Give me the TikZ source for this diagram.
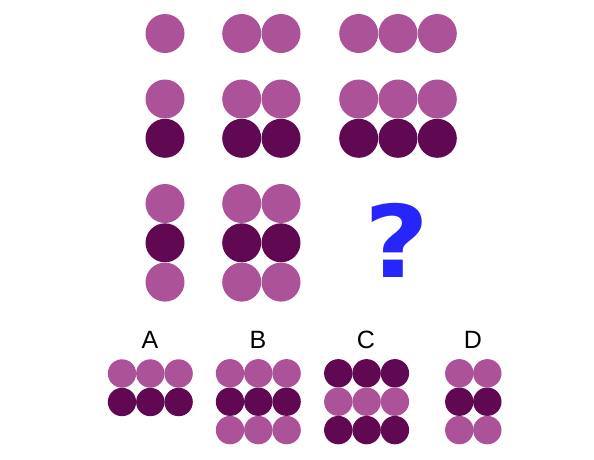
\documentclass[tikz,border=0pt]{standalone}
\usepackage{fontspec}
\setmainfont{Liberation Sans}
\newfontfamily\heavyfont{DejaVu Sans}
\usepackage{tikz}
\usetikzlibrary{positioning}

\definecolor{plum}{RGB}{172,82,152}
\definecolor{darkplum}{RGB}{96,8,82}
\definecolor{qublue}{RGB}{38,38,250}

\begin{document}
\begin{tikzpicture}[
  x=1pt, y=-1pt,
  dot/.style    = {circle, inner sep=0pt, minimum size=39pt},
  pip/.style    = {circle, inner sep=0pt, minimum size=28.4pt},
  letter/.style = {font=\fontsize{25}{25}\selectfont, anchor=base},
  query/.style  = {font=\heavyfont\fontsize{100}{100}\selectfont\bfseries, text=qublue,
    anchor=base, xscale=1.12},
]
  \useasboundingbox (0,0) rectangle (594,459);

  % puzzle: row 1
  \node[dot, fill=plum] (t11-1) at (165,33.5) {};
  \foreach \i in {0,1}
    \node[dot, fill=plum] (t12-\i) at (241.7+39.3*\i,33.5) {};
  \foreach \i in {0,1,2}
    \node[dot, fill=plum] (t13-\i) at (358.7+39.3*\i,33.5) {};

  % puzzle: row 2
  \foreach \s [count=\j from 0] in {plum,darkplum} {
    \node[dot, fill=\s] (t21-\j) at (165,99+39.3*\j) {};
    \foreach \i in {0,1}
      \node[dot, fill=\s] (t22-\i-\j) at (241.7+39.3*\i,99+39.3*\j) {};
    \foreach \i in {0,1,2}
      \node[dot, fill=\s] (t23-\i-\j) at (358.7+39.3*\i,99+39.3*\j) {};
  }

  % puzzle: row 3
  \foreach \s [count=\j from 0] in {plum,darkplum,plum} {
    \node[dot, fill=\s] (t31-\j) at (165,203.5+39.3*\j) {};
    \foreach \i in {0,1}
      \node[dot, fill=\s] (t32-\i-\j) at (241.7+39.3*\i,203.5+39.3*\j) {};
  }
  \node[query] (ask) at (397,277) {?};

  % answers
  \node[letter] (la) at (150,348) {A};
  \node[letter] (lb) at (258,348) {B};
  \node[letter] (lc) at (366,348) {C};
  \node[letter] (ld) at (473,348) {D};

  \foreach \s [count=\j from 0] in {plum,darkplum}
    \foreach \i in {0,1,2}
      \node[pip, fill=\s] (a-\i-\j) at (122+28.3*\i,373.5+28.5*\j) {};
  \foreach \s [count=\j from 0] in {plum,darkplum,plum}
    \foreach \i in {0,1,2}
      \node[pip, fill=\s] (b-\i-\j) at (230+28.3*\i,373.3+28.4*\j) {};
  \foreach \s [count=\j from 0] in {darkplum,plum,darkplum}
    \foreach \i in {0,1,2}
      \node[pip, fill=\s] (c-\i-\j) at (338.3+28.3*\i,373.3+28.4*\j) {};
  \foreach \s [count=\j from 0] in {plum,darkplum,plum}
    \foreach \i in {0,1}
      \node[pip, fill=\s] (d-\i-\j) at (459.3+28*\i,373.3+28.4*\j) {};
\end{tikzpicture}
\end{document}
